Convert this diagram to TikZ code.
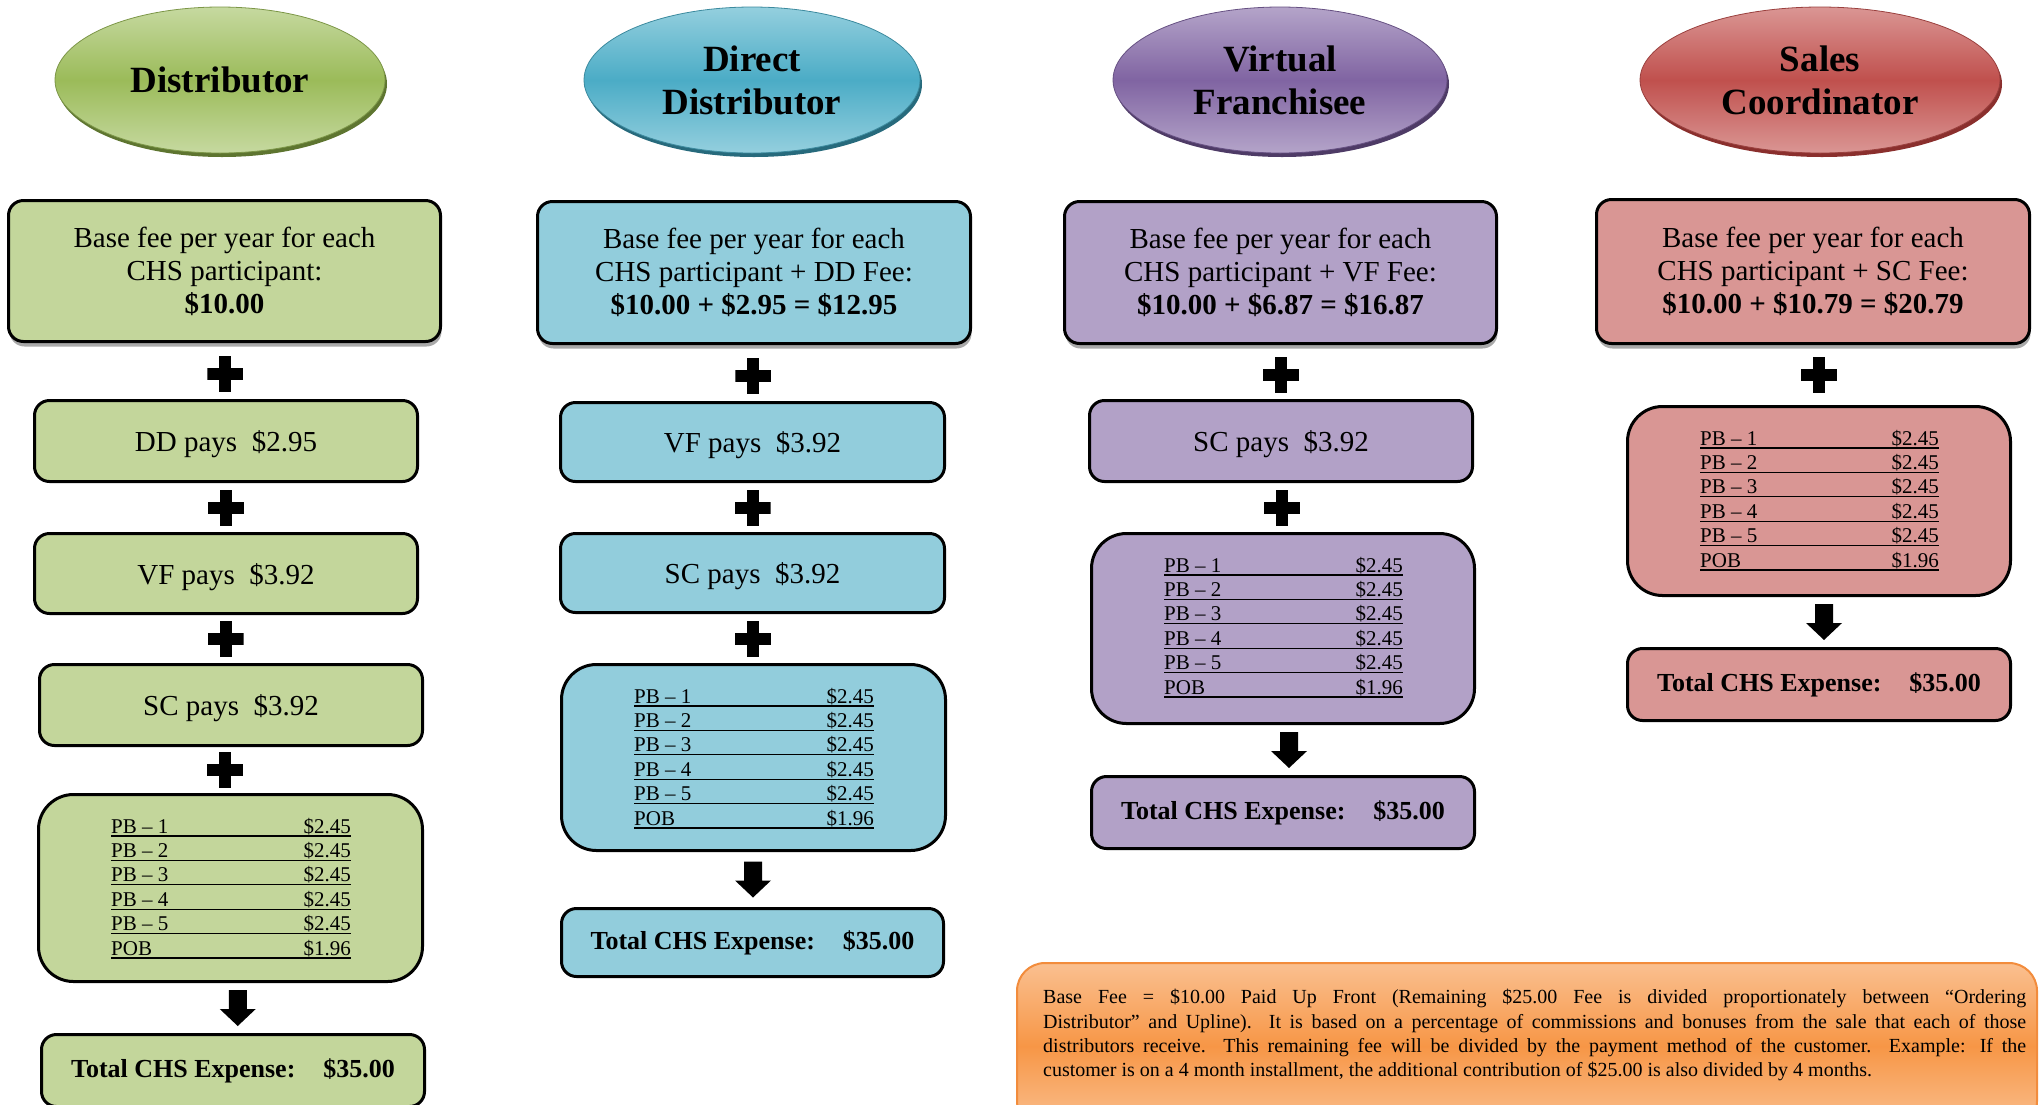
\documentclass[tikz,border=0pt]{standalone}
\usepackage{fontspec}
\setmainfont{Liberation Serif}
\usetikzlibrary{shapes.geometric,shadows,calc}

\definecolor{gMain}{HTML}{9BBB59}
\definecolor{gLight}{HTML}{C6D9A0}
\definecolor{gRim}{HTML}{5E7530}
\definecolor{gBox}{HTML}{C3D69B}
\definecolor{bMain}{HTML}{4BACC6}
\definecolor{bLight}{HTML}{94CFDE}
\definecolor{bRim}{HTML}{276A7C}
\definecolor{bBox}{HTML}{92CDDC}
\definecolor{pMain}{HTML}{8064A2}
\definecolor{pLight}{HTML}{B4A4C9}
\definecolor{pRim}{HTML}{4E3B66}
\definecolor{pBox}{HTML}{B2A1C7}
\definecolor{rMain}{HTML}{C0504D}
\definecolor{rLight}{HTML}{DA9694}
\definecolor{rRim}{HTML}{8A2F2D}
\definecolor{rBox}{HTML}{D99694}
\definecolor{oMain}{HTML}{F79646}
\definecolor{oLight}{HTML}{FAC090}
\definecolor{oLine}{HTML}{F28C3C}

\tikzset{
  hdr/.style n args={3}{ellipse, inner sep=0pt, minimum height=146pt, align=center,
    font=\fontsize{37}{43}\selectfont\bfseries, top color=#1, bottom color=#1,
    middle color=#2, draw=#3, line width=0.8pt},
  rim/.style={ellipse, inner sep=0pt, minimum height=146pt, fill=#1},
  box/.style={draw=black, line width=3pt, rounded corners=15pt, inner sep=0pt, align=center},
  basebox/.style={box, fill=#1, font=\fontsize{29}{33}\selectfont,
    drop shadow={shadow xshift=1pt, shadow yshift=-5pt, fill=black!45, opacity=0.75}},
  paybox/.style={box, fill=#1, font=\fontsize{29}{33}\selectfont, text height=21pt, text depth=0pt},
  pbbox/.style={box, fill=#1, rounded corners=35pt},
  totbox/.style={box, fill=#1, font=\fontsize{26}{30}\selectfont\bfseries},
  pbtxt/.style={inner sep=0pt, font=\fontsize{21}{24}\selectfont},
  plussign/.style={minimum width=36pt, minimum height=36pt, inner sep=0pt,
    path picture={
      \fill[black] ([xshift=-6pt]path picture bounding box.north) rectangle ([xshift=6pt]path picture bounding box.south);
      \fill[black] ([yshift=-6pt]path picture bounding box.west) rectangle ([yshift=6pt]path picture bounding box.east);}},
  downarrow/.style={minimum width=36pt, minimum height=36pt, inner sep=0pt,
    path picture={
      \fill[black] ([xshift=-9pt]path picture bounding box.north) -- ([xshift=9pt]path picture bounding box.north)
        -- ([xshift=9pt,yshift=17pt]path picture bounding box.south) -- ([yshift=17pt]path picture bounding box.south east)
        -- (path picture bounding box.south) -- ([yshift=17pt]path picture bounding box.south west)
        -- ([xshift=-9pt,yshift=17pt]path picture bounding box.south) -- cycle;}},
  notebox/.style={draw=oLine, line width=2pt, rounded corners=28pt, inner sep=0pt,
    top color=oLight, bottom color=oLight, middle color=oMain},
  notetext/.style={inner sep=0pt, text width=983pt, align=justify, font=\fontsize{20}{24.4}\selectfont}
}

\newcommand\pbrows[1]{%
  \foreach \lab/\val [count=\i from 0] in {PB – 1/2.45, PB – 2/2.45, PB – 3/2.45, PB – 4/2.45, PB – 5/2.45, POB/1.96}{%
    \coordinate (#1a\i) at ($(#1.north west)+(74,43+24.4*\i)$);
    \coordinate (#1b\i) at ($(#1.north east)+(-73,43+24.4*\i)$);
    \node[pbtxt, anchor=base west] (#1l\i) at ($(#1a\i)+(0,-3)$) {\lab};
    \node[pbtxt, anchor=base east] (#1v\i) at ($(#1b\i)+(0,-3)$) {\$\val};
    \draw[line width=1.3pt] (#1a\i) -- (#1b\i);
  }}

\begin{document}
\begin{tikzpicture}[x=1pt,y=-1pt]
\useasboundingbox (0,0) rectangle (2040,1104);
\clip (0,0) rectangle (2040,1104);

% ---------- Column 1: Distributor ----------
\node[rim=gRim, minimum width=330pt] (E1s) at (222,84) {};
\node[hdr={gLight}{gMain}{gMain!80!black}, minimum width=330pt] (E1) at (220,80) {Distributor};
\node[basebox=gBox, minimum width=432pt, minimum height=141pt] (B1) at (224.5,271)
  {Base fee per year for each\\CHS participant:\\\textbf{\$10.00}};
\node[paybox=gBox, minimum width=383pt, minimum height=81pt] (DD1) at (226,441) {DD pays\hspace{0.5em}\$2.95};
\node[paybox=gBox, minimum width=383pt, minimum height=80pt] (VF1) at (226,573.5) {VF pays\hspace{0.5em}\$3.92};
\node[paybox=gBox, minimum width=383pt, minimum height=81pt] (SC1) at (231,705) {SC pays\hspace{0.5em}\$3.92};
\node[pbbox=gBox, minimum width=384pt, minimum height=187pt] (PB1) at (230.5,888) {};
\pbrows{PB1}
\node[totbox=gBox, minimum width=383pt, minimum height=72pt] (T1) at (233,1070.5) {Total CHS Expense:\hspace{28pt}\$35.00};
\node[plussign] (P1a) at ($(B1.south)!0.5!(DD1.north)+(0,3)$) {};
\node[plussign] (P1b) at ($(DD1.south)!0.5!(VF1.north)$) {};
\node[plussign] (P1c) at ($(VF1.south)!0.5!(SC1.north)+(-3,0)$) {};
\node[plussign] (P1d) at ($(SC1.south)!0.5!(PB1.north)+(-6,0)$) {};
\node[downarrow] (A1) at ($(PB1.south)!0.5!(T1.north)+(6,0)$) {};

% ---------- Column 2: Direct Distributor ----------
\node[rim=bRim, minimum width=336pt] (E2s) at (754,84) {};
\node[hdr={bLight}{bMain}{bMain!80!black}, minimum width=336pt] (E2) at (752,80) {Direct\\Distributor};
\node[basebox=bBox, minimum width=433pt, minimum height=142pt] (B2) at (754,272.5)
  {Base fee per year for each\\CHS participant + DD Fee:\\\textbf{\$10.00 + \$2.95 = \$12.95}};
\node[paybox=bBox, minimum width=384pt, minimum height=79pt] (VF2) at (752.5,442) {VF pays\hspace{0.5em}\$3.92};
\node[paybox=bBox, minimum width=384pt, minimum height=79pt] (SC2) at (752.5,573) {SC pays\hspace{0.5em}\$3.92};
\node[pbbox=bBox, minimum width=384pt, minimum height=186pt] (PB2) at (753.5,757.5) {};
\pbrows{PB2}
\node[totbox=bBox, minimum width=382pt, minimum height=68pt] (T2) at (752.5,942.5) {Total CHS Expense:\hspace{28pt}\$35.00};
\node[plussign] (P2a) at ($(B2.south)!0.5!(VF2.north)+(0,3)$) {};
\node[plussign] (P2b) at ($(VF2.south)!0.5!(SC2.north)$) {};
\node[plussign] (P2c) at ($(SC2.south)!0.5!(PB2.north)$) {};
\node[downarrow] (A2) at ($(PB2.south)!0.5!(T2.north)$) {};

% ---------- Column 3: Virtual Franchisee ----------
\node[rim=pRim, minimum width=334pt] (E3s) at (1282,84) {};
\node[hdr={pLight}{pMain}{pMain!80!black}, minimum width=334pt] (E3) at (1280,80) {Virtual\\Franchisee};
\node[basebox=pBox, minimum width=432pt, minimum height=142pt] (B3) at (1280.5,272.5)
  {Base fee per year for each\\CHS participant + VF Fee:\\\textbf{\$10.00 + \$6.87 = \$16.87}};
\node[paybox=pBox, minimum width=383pt, minimum height=81pt] (SC3) at (1281,441) {SC pays\hspace{0.5em}\$3.92};
\node[pbbox=pBox, minimum width=383pt, minimum height=190pt] (PB3) at (1283,628.5) {};
\pbrows{PB3}
\node[totbox=pBox, minimum width=383pt, minimum height=72pt] (T3) at (1283,812.5) {Total CHS Expense:\hspace{28pt}\$35.00};
\node[plussign] (P3a) at ($(B3.south)!0.5!(SC3.north)+(0,3)$) {};
\node[plussign] (P3b) at ($(SC3.south)!0.5!(PB3.north)$) {};
\node[downarrow] (A3) at ($(PB3.south)!0.5!(T3.north)+(6,0)$) {};

% ---------- Column 4: Sales Coordinator ----------
\node[rim=rRim, minimum width=360pt] (E4s) at (1822,84) {};
\node[hdr={rLight}{rMain}{rMain!80!black}, minimum width=360pt] (E4) at (1820,80) {Sales\\Coordinator};
\node[basebox=rBox, minimum width=433pt, minimum height=144pt] (B4) at (1813,271.5)
  {Base fee per year for each\\CHS participant + SC Fee:\\\textbf{\$10.00 + \$10.79 = \$20.79}};
\node[pbbox=rBox, minimum width=383pt, minimum height=189pt] (PB4) at (1819,501) {};
\pbrows{PB4}
\node[totbox=rBox, minimum width=383pt, minimum height=72pt] (T4) at (1819,684.5) {Total CHS Expense:\hspace{28pt}\$35.00};
\node[plussign] (P4a) at ($(B4.south)!0.5!(PB4.north)+(3,0)$) {};
\node[downarrow] (A4) at ($(PB4.south)!0.5!(T4.north)+(5,0)$) {};

% ---------- Note ----------
\node[notebox, minimum width=1020pt, minimum height=166pt] (N) at (1527,1046) {};
\node[notetext, anchor=north west] (NT) at (1043,989)
  {Base Fee = \$10.00 Paid Up Front (Remaining \$25.00 Fee is divided proportionately between “Ordering\linebreak
   Distributor” and Upline).\ \ It is based on a percentage of commissions and bonuses from the sale that each of those\linebreak
   distributors receive.\ \ This remaining fee will be divided by the payment method of the customer.\ \ Example: If the\linebreak
   customer is on a 4 month installment, the additional contribution of \$25.00 is also divided by 4 months.};
\end{tikzpicture}
\end{document}
